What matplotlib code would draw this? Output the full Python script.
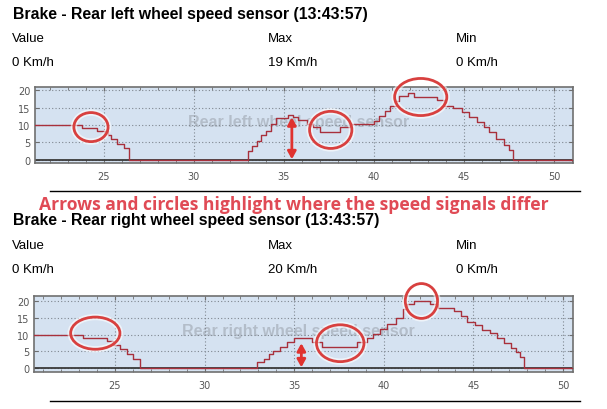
import matplotlib.pyplot as plt
from matplotlib.patches import Ellipse
from matplotlib.ticker import MultipleLocator

# step changes of the wheel speed: time (s) where a level starts, level (Km/h)
left_time = [21.0, 23.8, 24.6, 25.2, 25.4, 25.7, 26.1, 26.4, 33.0, 33.25, 33.5, 33.75,
             34.0, 34.3, 34.55, 35.2, 35.5, 35.8, 36.3, 36.6, 37.0, 38.1, 38.7, 40.0,
             40.3, 40.6, 40.9, 41.2, 41.4, 41.9, 42.2, 43.5, 43.9, 44.4, 44.9, 45.3,
             45.7, 46.1, 46.4, 46.8, 47.2, 47.5, 47.7, 51.2]
left_speed = [10, 9, 8.4, 7, 6, 4.6, 3.3, 0, 2.7, 4.1, 5.5, 7,
              8.4, 10.3, 12, 12.9, 12.2, 11.4, 10.3, 9.3, 8.0, 9.3, 10.3, 11.2,
              12.6, 14, 15.4, 16.8, 18.3, 19.2, 18.1, 17.1, 15.5, 14.8, 13.7, 12.3,
              10.8, 9.4, 8, 6.1, 4.2, 2.9, 0, 0]

right_time = [20.4, 23.2, 24.55, 24.9, 25.3, 25.65, 26.0, 26.4, 32.9, 33.3, 33.6, 33.8,
              34.2, 34.6, 35.0, 36.0, 36.55, 38.5, 39.05, 39.4, 39.8, 40.2, 40.7, 41.1,
              41.3, 41.7, 42.6, 43.0, 43.9, 44.3, 44.65, 45.1, 45.5, 45.95, 46.3, 46.7,
              47.1, 47.4, 47.6, 47.8, 50.7]
right_speed = [10, 9, 8, 7, 5.7, 4.2, 2.7, 0, 1.8, 2.7, 4.2, 5,
               6.2, 7.7, 9, 7.8, 6.3, 7.8, 9, 10.1, 11.6, 13.1, 15, 17.6,
               19, 20, 19, 18, 17, 15.6, 13.7, 12.7, 11.3, 10.4, 9, 7.5,
               6.1, 4.8, 3.3, 0, 0]

x_ticks = [25, 30, 35, 40, 45, 50]
y_ticks = [0, 5, 10, 15, 20]

stat_names = ['Value', 'Max', 'Min']
left_stats = ['0 Km/h', '19 Km/h', '0 Km/h']
right_stats = ['0 Km/h', '20 Km/h', '0 Km/h']

# highlight marks: ellipses (x, y, w, h) and double arrows (x, y_from, y_to)
left_circles = [(24.28, 9.4, 1.9, 8.3), (37.6, 8.6, 2.35, 10.6), (42.6, 18.0, 2.9, 10.6)]
right_circles = [(23.9, 10.4, 2.75, 9.6), (37.57, 7.4, 2.65, 11.0), (42.1, 20.0, 1.8, 10.4)]
left_arrow = (35.44, 12.2, 0.2)
right_arrow = (35.4, 7.4, 0.2)

W, H = 607, 410
RED = '#d8403f'
LINE = '#a8303c'


def fx(x):
    return x / W


def fy(y):
    return 1 - y / H


fig = plt.figure(figsize=(W / 100, H / 100), dpi=100)
fig.patch.set_facecolor('white')


def header(y0, title, stats):
    fig.text(fx(13), fy(y0), title, fontsize=11.4, fontweight='bold',
             family='Liberation Sans', va='center', ha='left')
    for xp, name, val in zip([12, 268, 456], stat_names, stats):
        fig.text(fx(xp), fy(y0 + 25), name, fontsize=9.5, family='Liberation Sans',
                 va='center', ha='left')
        fig.text(fx(xp), fy(y0 + 49), val, fontsize=9.5, family='Liberation Sans',
                 va='center', ha='left')


def chart(rect, xlim, ylim, times, speeds, label, circles, arrow):
    ax = fig.add_axes(rect)
    ax.set_facecolor('#d5e2f1')
    ax.set_xlim(*xlim)
    ax.set_ylim(*ylim)
    ax.set_xticks(x_ticks)
    ax.set_yticks(y_ticks)
    ax.xaxis.set_minor_locator(MultipleLocator(1))
    ax.grid(True, which='major', linestyle=(0, (1, 2)), color='#7f8790', lw=0.8)
    ax.tick_params(which='both', direction='in', top=True, right=True,
                   colors='#6e6e6e', labelcolor='#555555', labelsize=7)
    ax.tick_params(which='major', length=3)
    ax.tick_params(which='minor', length=2)
    ax.tick_params(axis='x', pad=6)
    for s in ax.spines.values():
        s.set_color('#707070')
        s.set_linewidth(1.2)
    ax.axhline(0, color='#3a3a3a', lw=1.3, zorder=2)
    ax.text(0.49, 0.55, label, transform=ax.transAxes, ha='center', va='center',
            fontsize=11.5, fontweight='bold', color='#aeb7c3', alpha=0.85,
            family='Liberation Sans', zorder=1)
    ax.step(times, speeds, where='post', color=LINE, lw=1.0, zorder=3)
    for (cx, cy, w, h) in circles:
        ax.add_patch(Ellipse((cx, cy), w, h, fill=False, ec='white', lw=4.5,
                             alpha=0.6, clip_on=False, zorder=4))
        ax.add_patch(Ellipse((cx, cy), w, h, fill=False, ec=RED, lw=2.0,
                             clip_on=False, zorder=5))
    x, y0, y1 = arrow
    ax.annotate('', xy=(x, y1), xytext=(x, y0),
                arrowprops=dict(arrowstyle='<|-|>,head_length=0.45,head_width=0.25',
                                color='#e0322f', lw=2.0, shrinkA=0, shrinkB=0),
                zorder=6)
    return ax


header(14, 'Brake - Rear left wheel speed sensor (13:43:57)', left_stats)
chart([fx(35), fy(164), (573 - 35) / W, 76 / H], (21.17, 51.06), (-0.86, 20.86),
      left_time, left_speed, 'Rear left wheel speed sensor', left_circles, left_arrow)

fig.add_artist(plt.Line2D([fx(50), fx(580)], [fy(192), fy(192)], color='black', lw=1))
fig.text(fx(39), fy(205), 'Arrows and circles highlight where the speed signals differ',
         fontsize=12.6, fontweight='bold', family='Open Sans', color='#e04a55',
         va='center', ha='left')

header(221, 'Brake - Rear right wheel speed sensor (13:43:57)', right_stats)
chart([fx(34), fy(373), (573 - 34) / W, 76 / H], (20.48, 50.56), (-1.19, 21.49),
      right_time, right_speed, 'Rear right wheel speed sensor', right_circles, right_arrow)

fig.add_artist(plt.Line2D([fx(50), fx(580)], [fy(402), fy(402)], color='black', lw=1))

fig.savefig('out.png', dpi=100)
